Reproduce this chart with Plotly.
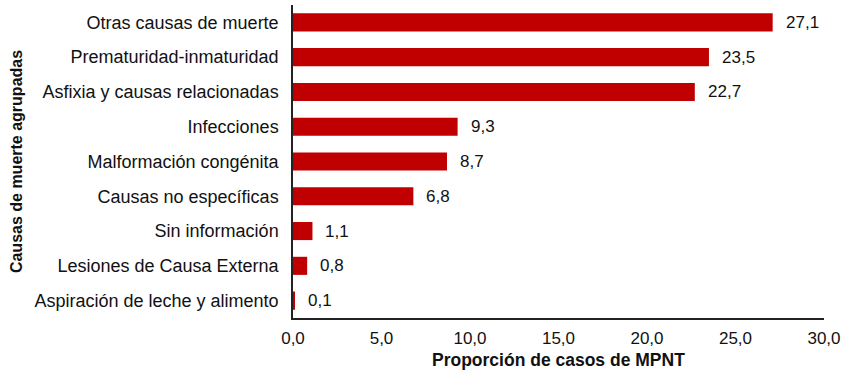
import plotly.graph_objects as go

categories = [
    "Otras causas de muerte",
    "Prematuridad-inmaturidad",
    "Asfixia y causas relacionadas",
    "Infecciones",
    "Malformación congénita",
    "Causas no específicas",
    "Sin información",
    "Lesiones de Causa Externa",
    "Aspiración de leche y alimento",
]
values = [27.1, 23.5, 22.7, 9.3, 8.7, 6.8, 1.1, 0.8, 0.1]
value_labels = ["27,1", "23,5", "22,7", "9,3", "8,7", "6,8", "1,1", "0,8", "0,1"]
x_ticks = [0, 5, 10, 15, 20, 25, 30]
x_title = "Proporción de casos de MPNT"
y_title = "Causas de muerte agrupadas"

FONT = "Liberation Sans, Arial, sans-serif"

fig = go.Figure()
fig.add_trace(go.Bar(
    y=categories,
    x=values,
    orientation="h",
    marker=dict(color="#C00000", line=dict(width=0)),
    width=0.52,
    hoverinfo="x+y",
))

for c, v, lab in zip(categories, values, value_labels):
    fig.add_annotation(x=v, y=c, text=lab, showarrow=False, xanchor="left",
                       xshift=11, font=dict(family=FONT, size=17, color="#111111"))

fig.add_annotation(x=0.5, y=0, xref="paper", yref="paper", text="<b>" + x_title + "</b>",
                   showarrow=False, xanchor="center", yanchor="middle", yshift=-42,
                   font=dict(family=FONT, size=17.5, color="#111111"))

fig.update_layout(
    width=846, height=371,
    margin=dict(l=293, r=22, t=5, b=53),
    paper_bgcolor="white", plot_bgcolor="white",
    separators=",.",
    showlegend=False,
    font=dict(family=FONT, size=17, color="#111111"),
    xaxis=dict(
        range=[0, 30], tickvals=x_ticks, tickformat=".1f",
        showgrid=False, zeroline=False, automargin=False,
        showline=True, linecolor="#222222", linewidth=1.5,
        ticks="", ticklabelstandoff=4, tickfont=dict(size=17),
    ),
    yaxis=dict(
        categoryorder="array", categoryarray=categories[::-1],
        autorange=False, range=[-0.5, 8.5],
        showgrid=False, zeroline=False, automargin=False,
        showline=True, linecolor="#222222", linewidth=1.5,
        ticks="", ticklabelstandoff=9, tickfont=dict(size=18),
        title=dict(text="<b>" + y_title + "</b>", font=dict(size=16), standoff=8),
    ),
)

fig.write_html("out.html")
